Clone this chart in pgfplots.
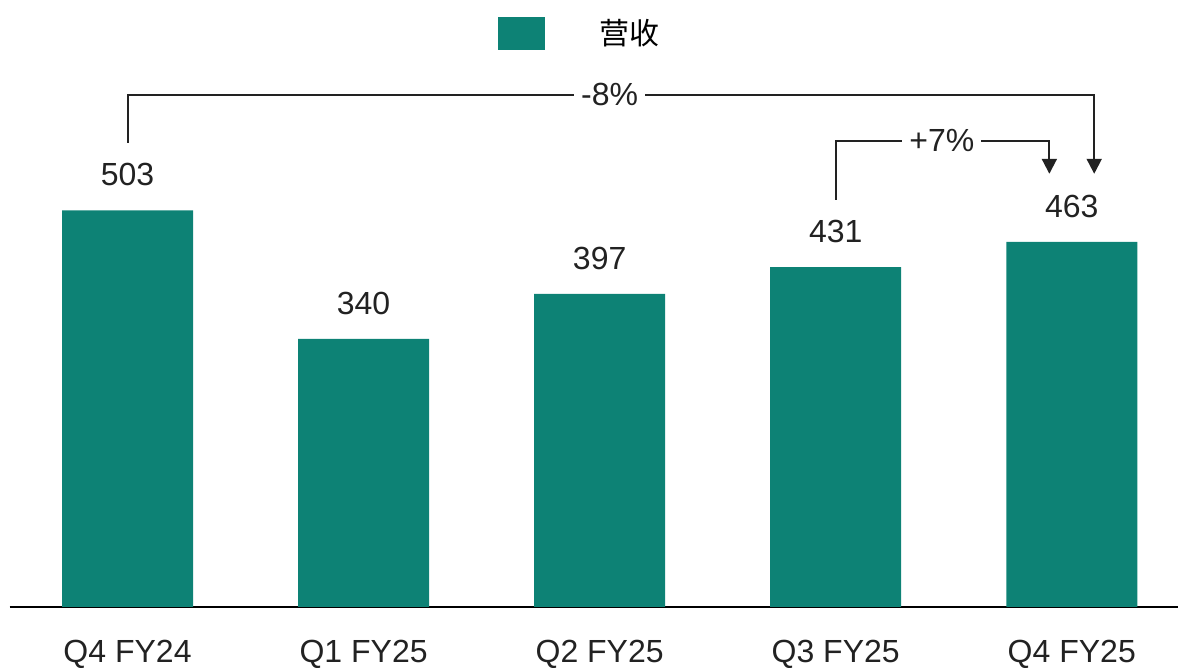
\documentclass[border=0pt]{standalone}
\usepackage{fontspec}
\setmainfont{Liberation Sans}
\newfontfamily\cjk{Noto Sans CJK SC}
\usepackage{pgfplots}
\pgfplotsset{compat=1.18}
\usetikzlibrary{arrows.meta}
\definecolor{barc}{RGB}{13,130,117}
\definecolor{linec}{RGB}{34,34,34}
\begin{document}
\begin{tikzpicture}[font=\fontsize{16pt}{19pt}\selectfont]
\begin{axis}[name=ax, scale only axis, width=584.1pt, height=303.4pt,
  xmin=-0.5, xmax=4.45, ymin=0, ymax=770, clip=false,
  axis x line*=bottom, axis y line=none,
  x axis line style={line width=1pt, black, -},
  xtick=data, xticklabels={Q4 FY24, Q1 FY25, Q2 FY25, Q3 FY25, Q4 FY25},
  major tick length=0pt,
  /pgf/number format/assume math mode=true,
  xticklabel style={inner sep=0pt, anchor=north, yshift=-16.5pt, text=linec, font=\fontsize{16pt}{19pt}\selectfont},
  ybar, bar width=65.5pt,
  nodes near coords,
  nodes near coords style={inner sep=0pt, anchor=south, yshift=12pt, text=linec, font=\fontsize{16pt}{19pt}\selectfont},
  legend style={draw=none, fill=none, inner sep=0pt, column sep=25pt, at={(0.418,0.975)}, anchor=north west, font=\fontsize{15pt}{18pt}\selectfont},
]
\addplot[fill=barc, draw=none, legend image code/.code={\fill[barc] (0pt,-8.25pt) rectangle (23.5pt,8.25pt);}] coordinates {(0,503) (1,340) (2,397) (3,431) (4,463)};
\addlegendentry{\cjk 营收}
\draw[linec, line width=1pt, -{Triangle[length=7.5pt,width=7.5pt]}] (axis cs:0,588.8) |- (axis cs:4.095,649.7) -- (axis cs:4.095,549.5);
\node[fill=white, inner xsep=3.5pt, inner ysep=1pt, text=linec] at (axis cs:2.042,649.7) {-8\%};
\draw[linec, line width=1pt, -{Triangle[length=7.5pt,width=7.5pt]}] (axis cs:3,516.5) |- (axis cs:3.905,591.4) -- (axis cs:3.905,549.5);
\node[fill=white, inner xsep=3.5pt, inner ysep=1pt, text=linec] at (axis cs:3.45,591.4) {+7\%};
\end{axis}
\pgfresetboundingbox
\path (ax.south west) ++(-4.75pt,-30.5pt) rectangle (ax.north east);
\end{tikzpicture}
\end{document}
